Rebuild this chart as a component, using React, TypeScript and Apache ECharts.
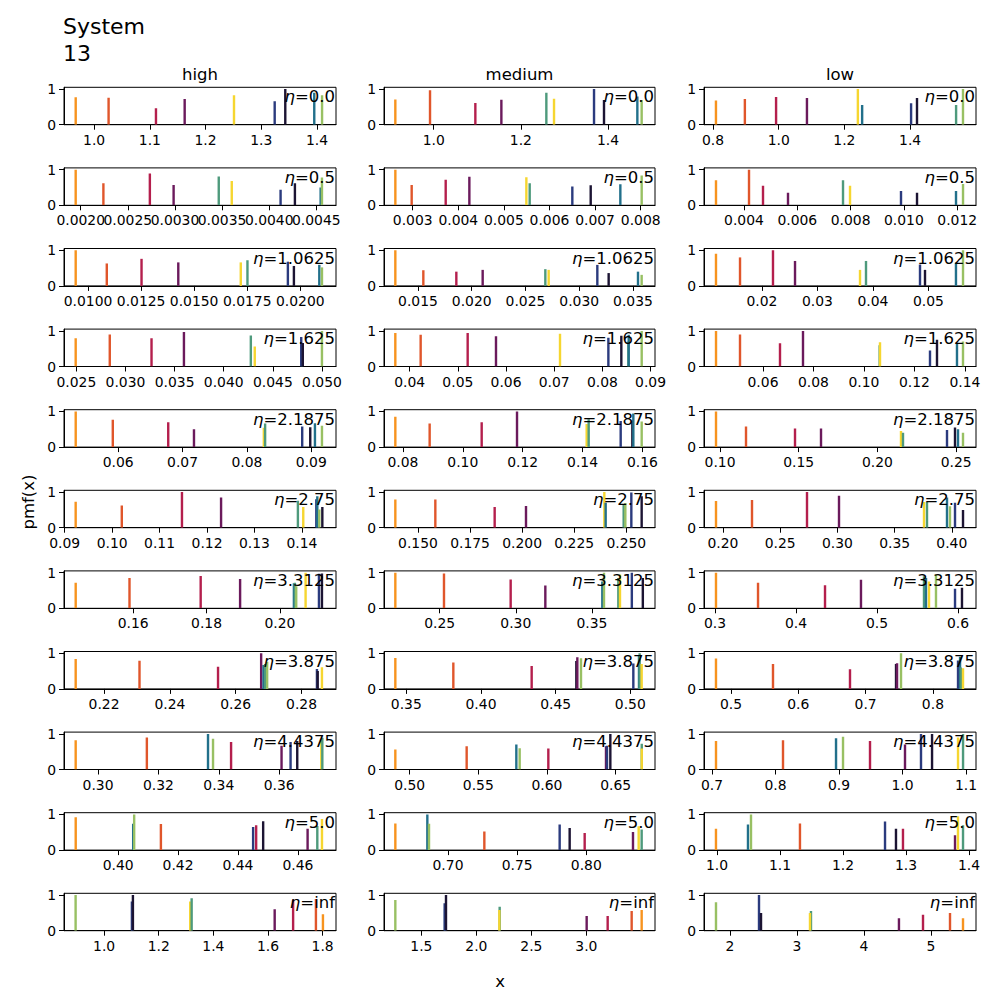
import React, { useEffect, useRef } from "react";
import * as echarts from "echarts";

// ---------- data ----------
const ETAS = ["0.0", "0.5", "1.0625", "1.625", "2.1875", "2.75", "3.3125", "3.875", "4.4375", "5.0", "inf"];
const LEVELS = ["high", "medium", "low"];
const SUPTITLE = "System\n13";
const X_LABEL = "x";
const Y_LABEL = "pmf(x)";

// item indices (one colour per item)
const O = 0, R = 1, C = 2, P = 3, K = 4, N = 5, T = 6, S = 7, G = 8, Y = 9;
const ITEM_COLORS = ["#f7931e", "#e0562b", "#b41f4d", "#6b1a5c", "#1c1433", "#2b3b7e", "#22708b", "#4e9a7c", "#98c063", "#f6d630"];

// [item, x, pmf]
const HIGH_PMF = [
  [[O, 0.967, 0.77], [R, 1.026, 0.76], [C, 1.111, 0.46], [P, 1.1625, 0.72], [Y, 1.251, 0.83], [N, 1.324, 0.66], [K, 1.343, 1.0], [T, 1.395, 0.9], [G, 1.409, 0.83]],
  [[O, 0.001947, 1.0], [R, 0.002241, 0.62], [C, 0.002734, 0.89], [P, 0.002986, 0.57], [S, 0.003465, 0.81], [Y, 0.003603, 0.68], [N, 0.004121, 0.44], [K, 0.004273, 0.62], [T, 0.004546, 0.5], [G, 0.00456, 0.78]],
  [[O, 0.009417, 1.0], [R, 0.010882, 0.63], [C, 0.01252, 0.76], [P, 0.014252, 0.66], [Y, 0.017197, 0.66], [S, 0.017512, 0.72], [N, 0.019417, 0.68], [K, 0.019701, 0.56], [T, 0.020898, 0.59], [G, 0.021024, 0.52]],
  [[O, 0.02493, 0.79], [R, 0.0284, 0.9], [C, 0.03265, 0.79], [P, 0.03595, 0.97], [S, 0.04276, 0.87], [Y, 0.04316, 0.56], [T, 0.04795, 0.6], [N, 0.04789, 0.83], [K, 0.04805, 0.66], [G, 0.05, 1.0]],
  [[O, 0.05341, 1.0], [R, 0.05917, 0.77], [C, 0.06778, 0.7], [P, 0.07178, 0.5], [Y, 0.08263, 0.54], [S, 0.08283, 0.66], [N, 0.08859, 0.58], [K, 0.08984, 0.56], [T, 0.09057, 0.67], [G, 0.09166, 0.6]],
  [[O, 0.09232, 0.73], [R, 0.10204, 0.62], [C, 0.11472, 1.0], [P, 0.12296, 0.85], [S, 0.13915, 0.76], [Y, 0.14028, 0.58], [N, 0.14303, 0.8], [T, 0.14324, 0.88], [G, 0.14366, 0.51], [K, 0.1443, 0.58]],
  [[O, 0.14433, 0.72], [R, 0.159, 0.85], [C, 0.17841, 0.91], [P, 0.18916, 0.82], [T, 0.20383, 0.7], [S, 0.2041, 0.72], [G, 0.20446, 0.62], [Y, 0.20702, 1.0], [N, 0.21066, 0.97], [K, 0.21148, 0.98]],
  [[O, 0.21137, 0.84], [R, 0.23076, 0.79], [C, 0.25462, 0.62], [P, 0.26772, 1.0], [T, 0.26843, 0.67], [S, 0.26893, 0.7], [G, 0.26954, 0.76], [N, 0.28467, 0.56], [K, 0.2849, 0.5], [Y, 0.28619, 0.61]],
  [[O, 0.29258, 0.82], [R, 0.31616, 0.9], [T, 0.33642, 1.0], [G, 0.33808, 0.86], [C, 0.34406, 0.77], [P, 0.36078, 0.67], [N, 0.36377, 0.77], [K, 0.36598, 0.8], [Y, 0.37395, 0.86], [S, 0.37429, 0.89]],
  [[O, 0.38584, 0.92], [T, 0.40502, 0.74], [G, 0.40535, 1.0], [R, 0.41427, 0.73], [N, 0.44505, 0.65], [C, 0.44606, 0.7], [K, 0.4484, 0.81], [P, 0.46323, 0.6], [S, 0.46647, 0.68], [Y, 0.46803, 0.87]],
  [[G, 0.8957, 1.0], [T, 1.103, 0.7], [N, 1.1018, 0.82], [K, 1.1055, 1.0], [Y, 1.3153, 0.82], [S, 1.3205, 0.91], [P, 1.6245, 0.6], [C, 1.692, 0.87], [R, 1.7755, 0.89], [O, 1.8012, 0.46]],
];
const HIGH_XLIM = [
  [0.946, 1.434], [0.001823, 0.004709], [0.008866, 0.021685], [0.02374, 0.05143], [0.05159, 0.09384],
  [0.08986, 0.14718], [0.14114, 0.21531], [0.20782, 0.29046], [0.28871, 0.37882], [0.38193, 0.47271], [0.8532, 1.849],
];
const HIGH_TICKS = [
  ["1.0", "1.1", "1.2", "1.3", "1.4"],
  ["0.0020", "0.0025", "0.0030", "0.0035", "0.0040", "0.0045"],
  ["0.0100", "0.0125", "0.0150", "0.0175", "0.0200"],
  ["0.025", "0.030", "0.035", "0.040", "0.045", "0.050"],
  ["0.06", "0.07", "0.08", "0.09"],
  ["0.09", "0.10", "0.11", "0.12", "0.13", "0.14"],
  ["0.16", "0.18", "0.20"],
  ["0.22", "0.24", "0.26", "0.28"],
  ["0.30", "0.32", "0.34", "0.36"],
  ["0.40", "0.42", "0.44", "0.46"],
  ["1.0", "1.2", "1.4", "1.6", "1.8"],
];

const MEDIUM_PMF = [
  [[O, 0.912, 0.71], [R, 0.9916, 0.97], [C, 1.0956, 0.61], [P, 1.1553, 0.7], [S, 1.2585, 0.9], [Y, 1.2761, 0.73], [N, 1.3679, 1.0], [K, 1.3908, 0.69], [T, 1.4673, 0.79], [G, 1.4772, 0.69]],
  [[O, 0.00262, 1.0], [R, 0.002978, 0.57], [C, 0.003724, 0.72], [P, 0.004243, 0.8], [Y, 0.005493, 0.79], [S, 0.005566, 0.62], [N, 0.006501, 0.53], [K, 0.006904, 0.56], [T, 0.007554, 0.59], [G, 0.008022, 0.84]],
  [[O, 0.012891, 1.0], [R, 0.015496, 0.44], [C, 0.018566, 0.4], [P, 0.021016, 0.45], [S, 0.026845, 0.47], [Y, 0.027155, 0.45], [N, 0.031682, 0.59], [K, 0.032736, 0.36], [T, 0.035465, 0.4], [G, 0.035806, 0.31]],
  [[O, 0.03702, 0.94], [R, 0.04228, 0.89], [C, 0.05204, 0.94], [P, 0.05792, 0.85], [Y, 0.07121, 0.92], [N, 0.08125, 0.81], [K, 0.08394, 0.86], [S, 0.0854, 0.7], [T, 0.08547, 0.89], [G, 0.08817, 1.0]],
  [[O, 0.07744, 0.85], [R, 0.08891, 0.66], [C, 0.1063, 0.7], [P, 0.11811, 1.0], [Y, 0.14139, 0.65], [S, 0.14206, 0.78], [N, 0.15276, 0.73], [K, 0.15666, 0.75], [T, 0.15699, 0.94], [G, 0.15978, 0.72]],
  [[O, 0.13912, 0.79], [R, 0.15832, 0.79], [C, 0.1868, 0.58], [P, 0.20184, 0.61], [Y, 0.23944, 1.0], [T, 0.24008, 0.7], [S, 0.24872, 0.64], [G, 0.24952, 0.69], [N, 0.2524, 0.99], [K, 0.25736, 0.88]],
  [[O, 0.2209, 1.0], [R, 0.25284, 0.98], [C, 0.29661, 0.81], [P, 0.31937, 0.64], [T, 0.35678, 0.75], [G, 0.35788, 1.0], [S, 0.36729, 0.85], [Y, 0.36838, 0.95], [N, 0.37615, 1.0], [K, 0.38337, 0.85]],
  [[O, 0.34263, 0.87], [R, 0.38147, 0.74], [C, 0.43393, 0.64], [K, 0.46384, 0.78], [P, 0.46451, 0.89], [G, 0.46696, 0.86], [N, 0.50201, 0.71], [T, 0.5058, 0.95], [S, 0.50625, 1.0], [Y, 0.50759, 0.7]],
  [[O, 0.48956, 0.56], [R, 0.5415, 0.65], [T, 0.57767, 0.7], [G, 0.5801, 0.6], [C, 0.60097, 0.59], [P, 0.64296, 0.65], [N, 0.64369, 0.67], [K, 0.64612, 1.0], [S, 0.6690, 0.72], [Y, 0.6690, 0.59]],
  [[O, 0.66193, 0.75], [T, 0.68506, 1.0], [G, 0.68627, 0.74], [R, 0.72627, 0.52], [N, 0.78072, 0.72], [K, 0.78795, 0.62], [C, 0.7988, 0.48], [P, 0.83373, 0.51], [Y, 0.83783, 0.67], [S, 0.84, 0.58]],
  [[G, 1.2636, 0.86], [T, 1.716, 0.6], [N, 1.7121, 0.77], [K, 1.7242, 1.0], [S, 2.2121, 0.67], [Y, 2.2091, 0.58], [P, 3.003, 0.41], [C, 3.1939, 0.41], [R, 3.4121, 0.55], [O, 3.503, 0.58]],
];
const MEDIUM_XLIM = [
  [0.886, 1.5078], [0.002371, 0.008314], [0.011837, 0.037047], [0.03467, 0.09093], [0.07365, 0.16423],
  [0.13368, 0.26376], [0.21346, 0.39136], [0.33504, 0.51652], [0.48131, 0.67864], [0.65373, 0.84964], [1.1606, 3.6242],
];
const MEDIUM_TICKS = [
  ["1.0", "1.2", "1.4"],
  ["0.003", "0.004", "0.005", "0.006", "0.007", "0.008"],
  ["0.015", "0.020", "0.025", "0.030", "0.035"],
  ["0.04", "0.05", "0.06", "0.07", "0.08", "0.09"],
  ["0.08", "0.10", "0.12", "0.14", "0.16"],
  ["0.150", "0.175", "0.200", "0.225", "0.250"],
  ["0.25", "0.30", "0.35"],
  ["0.35", "0.40", "0.45", "0.50"],
  ["0.50", "0.55", "0.60", "0.65"],
  ["0.70", "0.75", "0.80", "0.85"],
  ["1.5", "2.0", "2.5", "3.0"],
];

const LOW_PMF = [
  [[O, 0.809, 0.68], [R, 0.897, 0.72], [C, 0.992, 0.78], [P, 1.086, 0.75], [Y, 1.241, 1.0], [T, 1.254, 0.55], [N, 1.403, 0.6], [K, 1.421, 0.75], [S, 1.54, 0.55], [G, 1.561, 1.0]],
  [[O, 0.002949, 0.7], [R, 0.004188, 1.0], [C, 0.004713, 0.55], [P, 0.005651, 0.35], [S, 0.007715, 0.7], [Y, 0.007978, 0.55], [N, 0.009891, 0.4], [K, 0.010492, 0.35], [T, 0.011955, 0.4], [G, 0.012218, 0.6]],
  [[O, 0.01171, 0.9], [R, 0.01604, 0.8], [C, 0.02198, 1.0], [P, 0.02595, 0.7], [Y, 0.03766, 0.45], [S, 0.03874, 0.7], [N, 0.04847, 0.6], [K, 0.04937, 0.45], [T, 0.05495, 0.65], [G, 0.05622, 1.0]],
  [[O, 0.04139, 1.0], [R, 0.05089, 0.9], [C, 0.06673, 0.65], [P, 0.07584, 1.0], [S, 0.1062, 0.6], [Y, 0.10634, 0.68], [N, 0.12614, 0.45], [K, 0.12891, 0.75], [T, 0.13683, 0.65], [G, 0.13921, 0.7]],
  [[O, 0.09746, 1.0], [R, 0.11652, 0.58], [C, 0.14765, 0.52], [P, 0.16417, 0.52], [Y, 0.21499, 0.45], [S, 0.21626, 0.4], [N, 0.24422, 0.48], [K, 0.2493, 0.55], [T, 0.25121, 0.5], [G, 0.25438, 0.4]],
  [[O, 0.19388, 0.75], [R, 0.22535, 0.78], [C, 0.27343, 1.0], [P, 0.3014, 0.9], [Y, 0.3757, 0.72], [S, 0.37832, 0.72], [T, 0.3958, 0.85], [G, 0.3984, 0.6], [N, 0.4028, 0.7], [K, 0.4098, 0.5]],
  [[O, 0.3012, 1.0], [R, 0.3531, 0.72], [C, 0.4358, 0.65], [P, 0.4802, 0.8], [S, 0.558, 0.9], [T, 0.5605, 0.85], [Y, 0.5642, 0.75], [G, 0.5728, 0.95], [N, 0.5963, 0.55], [K, 0.6049, 0.58]],
  [[O, 0.4777, 0.85], [R, 0.5624, 0.7], [C, 0.6768, 0.55], [K, 0.7452, 0.7], [P, 0.7467, 0.72], [G, 0.7526, 1.0], [N, 0.8373, 0.8], [T, 0.8403, 0.9], [S, 0.8415, 0.6], [Y, 0.8447, 0.58]],
  [[O, 0.7063, 0.8], [R, 0.8118, 0.82], [T, 0.8953, 0.88], [G, 0.9063, 0.92], [C, 0.9488, 0.8], [P, 1.0039, 0.7], [N, 1.0291, 1.0], [K, 1.0465, 1.0], [Y, 1.0874, 0.9], [S, 1.0953, 1.0]],
  [[O, 0.9984, 0.6], [T, 1.0492, 0.72], [G, 1.054, 1.0], [R, 1.1317, 0.75], [N, 1.2667, 0.8], [K, 1.2841, 0.6], [C, 1.2952, 0.6], [P, 1.3778, 0.42], [Y, 1.3825, 0.95], [S, 1.3905, 0.7]],
  [[G, 1.791, 0.8], [N, 2.433, 1.0], [K, 2.463, 0.5], [S, 3.209, 0.55], [Y, 3.194, 0.5], [P, 4.522, 0.35], [C, 4.881, 0.45], [R, 5.284, 0.5], [O, 5.478, 0.35]],
];
const LOW_XLIM = [
  [0.7726, 1.6006], [0.002499, 0.012705], [0.00955, 0.05856], [0.03663, 0.14436], [0.08983, 0.26264],
  [0.18339, 0.42115], [0.2864, 0.6222], [0.4599, 0.864], [0.6874, 1.1157], [0.9794, 1.4111], [1.612, 5.672],
];
const LOW_TICKS = [
  ["0.8", "1.0", "1.2", "1.4"],
  ["0.004", "0.006", "0.008", "0.010", "0.012"],
  ["0.02", "0.03", "0.04", "0.05"],
  ["0.06", "0.08", "0.10", "0.12", "0.14"],
  ["0.10", "0.15", "0.20", "0.25"],
  ["0.20", "0.25", "0.30", "0.35", "0.40"],
  ["0.3", "0.4", "0.5", "0.6"],
  ["0.5", "0.6", "0.7", "0.8"],
  ["0.7", "0.8", "0.9", "1.0", "1.1"],
  ["1.0", "1.1", "1.2", "1.3", "1.4"],
  ["2", "3", "4", "5"],
];

const Y_TICKS = ["0", "1"];
const Y_MAX = 1.05;

// ---------- layout ----------
const FONT = "DejaVu Sans";
const COL_LEFT = [64, 384, 704];
const COL_W = [272, 271, 272];
const ROW_TOP0 = 87.3;
const ROW_PITCH = 80.6;
const ROW_H = 37.4;
const BAR_W = 2.4;
const TICK_FONT = 13.9;

function labelFormatter(vals: number[], strs: string[]) {
  return (v: number) => {
    const i = vals.findIndex((t) => Math.abs(t - v) < 1e-9);
    return i >= 0 ? strs[i] : "";
  };
}

function buildOption() {
  const grids: any[] = [];
  const xAxes: any[] = [];
  const yAxes: any[] = [];
  const series: any[] = [];
  const graphics: any[] = [];
  const cols = [
    { pmf: HIGH_PMF, xlim: HIGH_XLIM, ticks: HIGH_TICKS },
    { pmf: MEDIUM_PMF, xlim: MEDIUM_XLIM, ticks: MEDIUM_TICKS },
    { pmf: LOW_PMF, xlim: LOW_XLIM, ticks: LOW_TICKS },
  ];
  let k = 0;
  cols.forEach((col, ci) => {
    ETAS.forEach((eta, ri) => {
      const top = ROW_TOP0 + ROW_PITCH * ri;
      const left = COL_LEFT[ci];
      const width = COL_W[ci];
      grids.push({
        left, top, width, height: ROW_H,
        show: true, borderColor: "#000", borderWidth: 1, backgroundColor: "transparent",
        containLabel: false,
      });
      const tickStrs = col.ticks[ri];
      const tickVals = tickStrs.map((t) => parseFloat(t));
      // labels split into two interleaved sets so that crowded labels are all kept
      const evenVals = tickVals.filter((_, i) => i % 2 === 0);
      const oddVals = tickVals.filter((_, i) => i % 2 === 1);
      const fmt = labelFormatter(tickVals, tickStrs);
      const xMin = col.xlim[ri][0];
      const xMax = col.xlim[ri][1];
      // primary axis (line, all ticks, even labels)
      xAxes.push({
        type: "value", gridIndex: k, position: "bottom",
        min: xMin, max: xMax,
        axisLine: { show: true, onZero: false, lineStyle: { color: "#000", width: 1 } },
        axisTick: { show: true, length: 5, customValues: tickVals, lineStyle: { color: "#000", width: 1 } },
        axisLabel: {
          customValues: evenVals, margin: 8, fontSize: TICK_FONT, color: "#000", fontFamily: FONT,
          showMinLabel: true, showMaxLabel: true, hideOverlap: false, formatter: fmt,
        },
        splitLine: { show: false },
      });
      // overlay axis (odd labels only)
      xAxes.push({
        type: "value", gridIndex: k, position: "bottom", offset: 0,
        min: xMin, max: xMax,
        axisLine: { show: false, onZero: false },
        axisTick: { show: false },
        axisLabel: {
          show: oddVals.length > 0,
          customValues: oddVals.length > 0 ? oddVals : evenVals,
          margin: 8, fontSize: TICK_FONT, color: "#000", fontFamily: FONT,
          showMinLabel: true, showMaxLabel: true, hideOverlap: false, formatter: fmt,
        },
        splitLine: { show: false },
      });
      const yVals = Y_TICKS.map((t) => parseFloat(t));
      yAxes.push({
        type: "value", gridIndex: k, min: 0, max: Y_MAX,
        axisLine: { show: true, lineStyle: { color: "#000", width: 1 } },
        axisTick: { show: true, length: 5, customValues: yVals, lineStyle: { color: "#000", width: 1 } },
        axisLabel: {
          customValues: yVals, margin: 8, fontSize: TICK_FONT, color: "#000", fontFamily: FONT,
          showMinLabel: true, showMaxLabel: true,
          formatter: labelFormatter(yVals, Y_TICKS),
        },
        splitLine: { show: false },
      });
      series.push({
        type: "custom",
        xAxisIndex: 2 * k, yAxisIndex: k,
        silent: true,
        clip: true,
        encode: { x: 0, y: 1 },
        data: col.pmf[ri].map((d) => [d[1], d[2], d[0]]),
        renderItem: (params: any, api: any) => {
          const x = api.value(0);
          const y = api.value(1);
          const c = api.value(2);
          const p0 = api.coord([x, 0]);
          const p1 = api.coord([x, y]);
          return {
            type: "rect",
            shape: { x: p0[0] - BAR_W / 2, y: p1[1], width: BAR_W, height: p0[1] - p1[1] },
            style: { fill: ITEM_COLORS[c] },
          };
        },
      });
      graphics.push({
        type: "text",
        x: left + width - 1,
        y: top + 1,
        z: 100,
        style: {
          text: "{e|η}{n|=" + eta + "}",
          align: "right", textAlign: "right",
          verticalAlign: "top", textVerticalAlign: "top",
          rich: {
            e: { fontSize: 16.5, fontFamily: FONT, fontStyle: "italic", fill: "#000", color: "#000" },
            n: { fontSize: 16.5, fontFamily: FONT, fill: "#000", color: "#000" },
          },
        },
      });
      k++;
    });
    graphics.push({
      type: "text",
      x: COL_LEFT[ci] + COL_W[ci] / 2,
      y: 74,
      style: {
        text: LEVELS[ci], fontSize: 16.5, fontFamily: FONT, fill: "#000",
        align: "center", textAlign: "center", verticalAlign: "middle", textVerticalAlign: "middle",
      },
    });
  });
  graphics.push({
    type: "text", x: 63, y: 13,
    style: {
      text: SUPTITLE, fontSize: 22, lineHeight: 27, fontFamily: FONT, fill: "#000",
      align: "left", textAlign: "left", verticalAlign: "top", textVerticalAlign: "top",
    },
  });
  graphics.push({
    type: "text", x: 28, y: 502, rotation: Math.PI / 2,
    style: {
      text: Y_LABEL, fontSize: 16.5, fontFamily: FONT, fill: "#000",
      align: "center", textAlign: "center", verticalAlign: "middle", textVerticalAlign: "middle",
    },
  });
  graphics.push({
    type: "text", x: 500, y: 981,
    style: {
      text: X_LABEL, fontSize: 16.5, fontFamily: FONT, fill: "#000",
      align: "center", textAlign: "center", verticalAlign: "middle", textVerticalAlign: "middle",
    },
  });
  return {
    animation: false,
    backgroundColor: "#fff",
    textStyle: { fontFamily: FONT },
    grid: grids,
    xAxis: xAxes,
    yAxis: yAxes,
    series,
    graphic: { elements: graphics },
  };
}

export default function App() {
  const ref = useRef<HTMLDivElement>(null);
  useEffect(() => {
    if (!ref.current) return;
    const chart = echarts.init(ref.current, undefined, { renderer: "svg" });
    chart.setOption(buildOption() as any);
    return () => chart.dispose();
  }, []);
  return (
    <div
      ref={ref}
      style={{ position: "fixed", left: 0, top: 0, width: 1000, height: 1000, background: "#fff" }}
    />
  );
}
